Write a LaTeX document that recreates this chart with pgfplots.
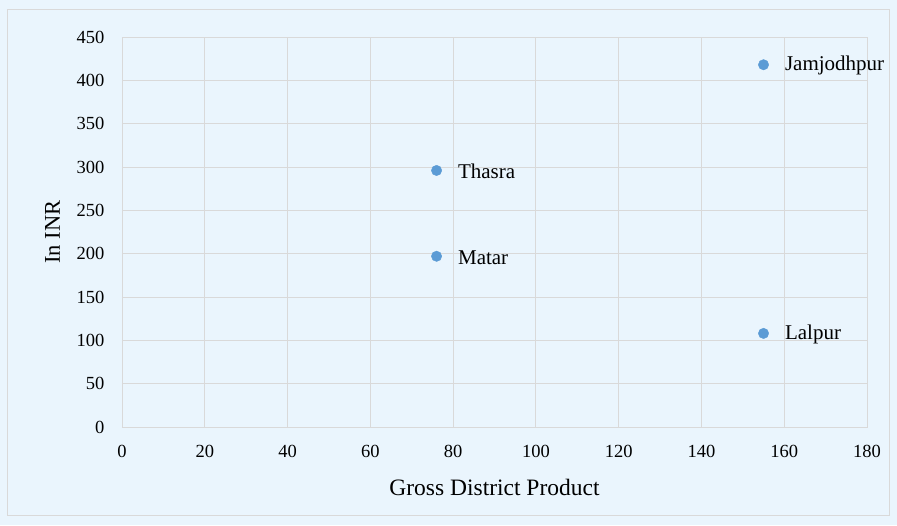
\documentclass[border=0pt]{standalone}
\usepackage{pgfplots}
\pgfplotsset{compat=1.18}
\usepackage{fontspec}
\setmainfont{Liberation Serif}
\definecolor{bgc}{RGB}{234,245,253}
\definecolor{gridc}{RGB}{217,217,217}
\definecolor{ptc}{RGB}{91,155,213}
\begin{document}
\begin{tikzpicture}[x=1pt,y=1pt]
\fill[bgc] (-122,-98) rectangle (775,427);
\draw[gridc, line width=1pt] (-114,-88) rectangle (767,417);
\begin{axis}[
  at={(0,0)}, anchor=origin,
  scale only axis, width=745pt, height=390pt,
  xmin=0, xmax=180, ymin=0, ymax=450,
  xtick={0,20,...,180}, ytick={0,50,...,450},
  grid=major, major grid style={gridc, line width=0.9pt},
  axis line style={gridc, line width=0.9pt},
  tick style={draw=none},
  /pgf/number format/assume math mode=true,
  xticklabel style={font=\fontsize{18.5}{21}\selectfont, yshift=-15pt},
  yticklabel style={font=\fontsize{18.5}{21}\selectfont, xshift=-14pt},
  xlabel={Gross District Product},
  ylabel={In INR},
  xlabel style={font=\fontsize{23.5}{27}\selectfont, yshift=-14pt},
  ylabel style={font=\fontsize{22.5}{26}\selectfont, yshift=10pt},
  clip=false,
]
\addplot[only marks, mark=*, mark size=5.2pt, mark options={fill=ptc, draw=ptc},
  nodes near coords, point meta=explicit symbolic,
  nodes near coords style={anchor=west, xshift=18pt, yshift=-1pt, font=\fontsize{21}{24}\selectfont, text=black}]
  table[meta=label] {
x y label
155 418 Jamjodhpur
76 296 Thasra
76 197 Matar
155 108 Lalpur
};
\end{axis}
\end{tikzpicture}
\end{document}
